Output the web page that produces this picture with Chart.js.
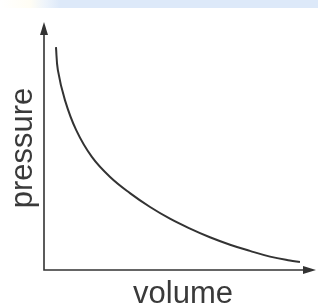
<!DOCTYPE html>
<html>
<head>
<meta charset="utf-8">
<script src="https://cdn.jsdelivr.net/npm/chart.js@4"></script>
<style>
  html, body { margin: 0; padding: 0; background: #fff; }
  #wrap { position: relative; width: 318px; height: 306px; }
  #band { position: absolute; left: 0; top: 0; width: 318px; height: 8px;
          background: linear-gradient(to right, #fff 0px, #fffdf4 30px, #eef4fb 45px, #dde9f9 60px, #dde9f9 318px); }
  canvas { position: absolute; left: 0; top: 0; }
</style>
</head>
<body>
<div id="wrap">
  <div id="band"></div>
  <canvas id="grafik" width="318" height="306"></canvas>
</div>
<script>
// values (arbitrary units 0..10)
const volume   = [0.44, 0.51, 0.77, 1.18, 1.76, 2.43, 3.16, 3.90, 4.63, 5.37, 6.10, 6.84, 7.57, 8.31, 9.04, 9.41];
const pressure = [8.99, 8.06, 6.85, 5.65, 4.56, 3.75, 3.10, 2.54, 2.07, 1.67, 1.32, 1.02, 0.77, 0.54, 0.38, 0.32];
const xLabel = 'volume';
const yLabel = 'pressure';

const titleFont = '31px "Liberation Sans Narrow", "Liberation Sans", Arial, sans-serif';
const ink = '#333';

// axes with arrow heads + titles
const axesPlugin = {
    id: 'axes',
    afterDraw(c) {
        const ctx = c.ctx;
        const a = c.chartArea;
        ctx.save();
        ctx.strokeStyle = ink;
        ctx.fillStyle = ink;
        ctx.lineWidth = 1.6;
        ctx.beginPath();
        ctx.moveTo(a.left, a.top + 6);
        ctx.lineTo(a.left, a.bottom);
        ctx.lineTo(a.right - 6, a.bottom);
        ctx.stroke();

        // arrow up
        ctx.beginPath();
        ctx.moveTo(a.left, a.top);
        ctx.lineTo(a.left - 4, a.top + 13);
        ctx.lineTo(a.left + 4, a.top + 13);
        ctx.closePath();
        ctx.fill();
        // arrow right
        ctx.beginPath();
        ctx.moveTo(a.right, a.bottom);
        ctx.lineTo(a.right - 13, a.bottom - 4);
        ctx.lineTo(a.right - 13, a.bottom + 4);
        ctx.closePath();
        ctx.fill();

        ctx.font = titleFont;
        ctx.fillStyle = '#3a3a3a';
        ctx.textAlign = 'center';
        ctx.textBaseline = 'alphabetic';
        ctx.fillText(xLabel, 183, 303);

        ctx.translate(32, 148);
        ctx.rotate(-Math.PI / 2);
        ctx.fillText(yLabel, 0, 0);
        ctx.restore();
    }
};

const chart = new Chart(document.getElementById('grafik').getContext('2d'), {
    type: 'scatter',
    data: {
        datasets: [{
            data: volume.map((v, i) => ({ x: v, y: pressure[i] })),
            showLine: true,
            borderColor: '#333',
            borderWidth: 2,
            pointRadius: 0,
            tension: 0.4,
            clip: false
        }]
    },
    options: {
        responsive: false,
        animation: false,
        layout: { padding: { left: 44, top: 22, right: 2, bottom: 36 } },
        plugins: { legend: { display: false }, tooltip: { enabled: false } },
        scales: {
            x: { display: false, min: 0, max: 10 },
            y: { display: false, min: 0, max: 10 }
        }
    },
    plugins: [axesPlugin]
});
</script>
</body>
</html>
